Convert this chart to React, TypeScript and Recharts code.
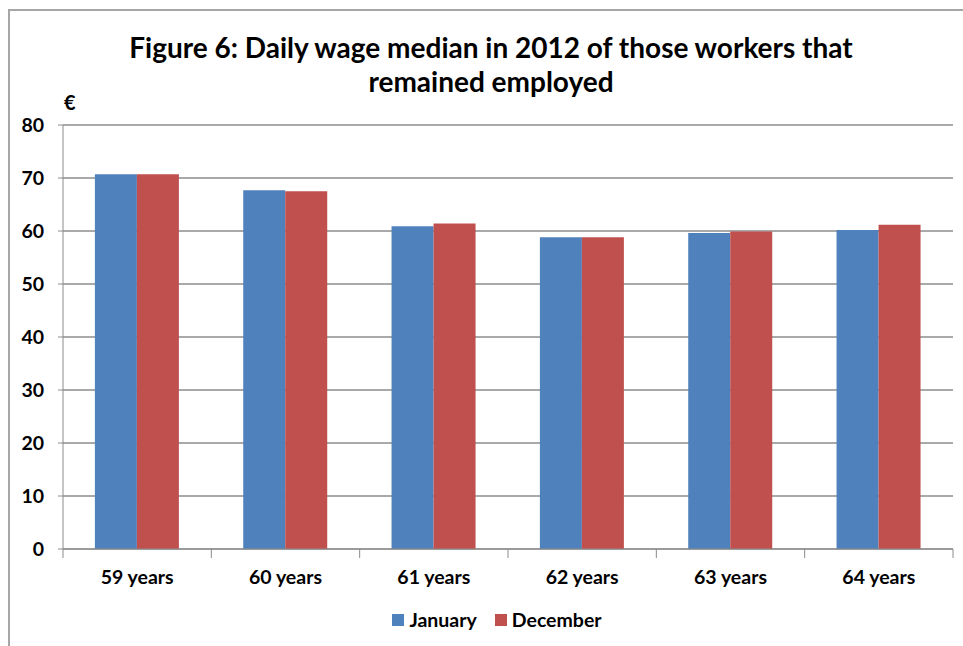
import { BarChart, Bar, XAxis, YAxis, CartesianGrid } from "recharts";

const categories = ["59 years", "60 years", "61 years", "62 years", "63 years", "64 years"];
const january = [70.7, 67.7, 60.9, 58.8, 59.6, 60.2];
const december = [70.7, 67.5, 61.4, 58.8, 59.9, 61.2];
const yTicks = [0, 10, 20, 30, 40, 50, 60, 70, 80];

const BLUE = "#4F81BD";
const RED = "#C0504D";
const GRID = "#8C8C8C";
const FONT = "Lato, 'Open Sans', sans-serif";

const data = categories.map((name, i) => ({
  name,
  january: january[i],
  december: december[i],
}));

const W = 963;
const H = 646;
const M = { top: 125, right: 10, left: 18, bottom: 47 };
const Y_W = 45;
const plotLeft = M.left + Y_W;
const plotRight = W - M.right;
const band = (plotRight - plotLeft) / categories.length;

function XTick(props: any) {
  const { x, y, payload, index } = props;
  const left = x - band / 2;
  return (
    <g>
      <line x1={left} y1={y - 8} x2={left} y2={y + 1} stroke={GRID} />
      {index === categories.length - 1 && (
        <line x1={left + band} y1={y - 8} x2={left + band} y2={y + 1} stroke={GRID} />
      )}
      <text
        x={x}
        y={y + 27}
        textAnchor="middle"
        fontFamily={FONT}
        fontWeight="bold"
        fontSize={19.5}
        fill="#000"
      >
        {payload.value}
      </text>
    </g>
  );
}

export default function App() {
  return (
    <div
      style={{
        position: "absolute",
        top: 0,
        left: 0,
        width: W,
        height: H,
        background: "#fff",
        fontFamily: FONT,
      }}
    >
      <div
        style={{
          position: "absolute",
          top: 9,
          left: 8,
          width: W - 8,
          height: H - 9,
          borderTop: "2px solid #A6A6A6",
          borderLeft: "2px solid #A6A6A6",
        }}
      />
      <div
        style={{
          position: "absolute",
          top: 30,
          left: 0,
          width: 982,
          textAlign: "center",
          fontWeight: "bold",
          fontSize: 28,
          lineHeight: "34px",
          color: "#000",
        }}
      >
        Figure 6: Daily wage median in 2012 of those workers that
        <br />
        remained employed
      </div>
      <div
        style={{
          position: "absolute",
          top: 90,
          left: 64,
          fontWeight: "bold",
          fontSize: 20,
        }}
      >
        €
      </div>
      <BarChart
        width={W}
        height={H}
        data={data}
        margin={M}
        barCategoryGap="21.5%"
        barGap={0}
        style={{ position: "absolute", top: 0, left: 0 }}
      >
        <CartesianGrid vertical={false} stroke={GRID} strokeWidth={1.3} />
        <XAxis
          dataKey="name"
          stroke={GRID}
          tickLine={false}
          tick={<XTick />}
          interval={0}
          height={50}
        />
        <YAxis
          domain={[0, 80]}
          ticks={yTicks}
          width={Y_W}
          stroke={GRID}
          tickSize={5}
          tickMargin={14}
          tick={{ fill: "#000", fontSize: 19.5, fontWeight: "bold", fontFamily: FONT }}
        />
        <Bar dataKey="january" name="January" fill={BLUE} isAnimationActive={false} />
        <Bar dataKey="december" name="December" fill={RED} isAnimationActive={false} />
      </BarChart>
      <div
        style={{
          position: "absolute",
          top: 608,
          left: 0,
          width: 994,
          display: "flex",
          justifyContent: "center",
          gap: 18,
          fontWeight: "bold",
          fontSize: 19.5,
        }}
      >
        <span style={{ display: "flex", alignItems: "center", gap: 5 }}>
          <span style={{ width: 12, height: 12, background: BLUE, display: "inline-block" }} />
          January
        </span>
        <span style={{ display: "flex", alignItems: "center", gap: 5 }}>
          <span style={{ width: 12, height: 12, background: RED, display: "inline-block" }} />
          December
        </span>
      </div>
    </div>
  );
}
